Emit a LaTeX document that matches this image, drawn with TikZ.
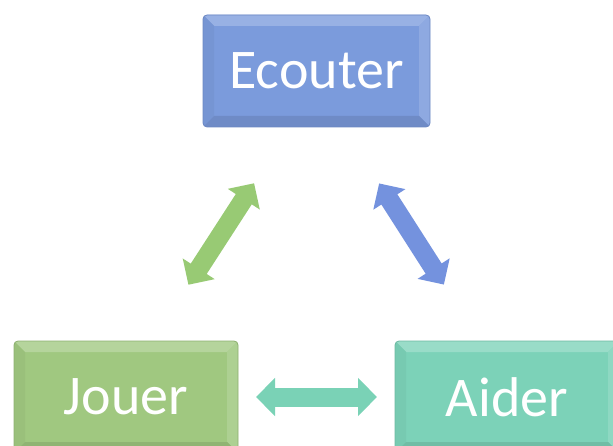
\documentclass[tikz,border=0pt]{standalone}
\usepackage{fontspec}
\setmainfont{Carlito}
\usepackage{xcolor}
\usetikzlibrary{positioning,calc,arrows.meta}
\definecolor{ecoBlue}{RGB}{123,155,220}
\definecolor{jouGreen}{RGB}{160,200,128}
\definecolor{aidTeal}{RGB}{124,210,184}
\definecolor{arrGreen}{RGB}{152,202,116}
\definecolor{arrBlue}{RGB}{116,146,222}
\definecolor{arrTeal}{RGB}{122,210,182}
\tikzset{
    box/.style={rectangle, rounded corners=4pt, fill=#1, minimum width=224pt, minimum height=112pt, inner sep=0pt, outer sep=0pt, text=white, font=\fontsize{56}{60}\selectfont},
    dblarrow/.style={draw=#1, line width=19pt, {Triangle[width=37pt,length=19pt]}-{Triangle[width=37pt,length=19pt]}}
}
\begin{document}
\begin{tikzpicture}[x=1pt, y=1pt,
        bevel/.store in=\bev, bevel=11pt
    ]
    \useasboundingbox (0,0) rectangle (613,445);
    % --- Les trois boites ---
    \node[box=ecoBlue, minimum width=227pt] (ecouter) at (316.5,374) {Ecouter};
    \node[box=jouGreen] (jouer) at (126,48) {Jouer};
    \node[box=aidTeal] (aider) at (507,48) {Aider};
    % --- Effet de relief ---
    \foreach \n/\c in {ecouter/ecoBlue, jouer/jouGreen, aider/aidTeal} {
        \begin{scope}
            \clip[rounded corners=4pt] (\n.north west) rectangle (\n.south east);
            \fill[\c!78!white] (\n.north west) -- (\n.north east) -- ([shift={(-\bev,-\bev)}]\n.north east) -- ([shift={(\bev,-\bev)}]\n.north west) -- cycle;
            \fill[\c!86!white] (\n.north east) -- (\n.south east) -- ([shift={(-\bev,\bev)}]\n.south east) -- ([shift={(-\bev,-\bev)}]\n.north east) -- cycle;
            \fill[\c!96!black] (\n.north west) -- (\n.south west) -- ([shift={(\bev,\bev)}]\n.south west) -- ([shift={(\bev,-\bev)}]\n.north west) -- cycle;
            \fill[\c!90!black] (\n.south west) -- (\n.south east) -- ([shift={(-\bev,\bev)}]\n.south east) -- ([shift={(\bev,\bev)}]\n.south west) -- cycle;
        \end{scope}
        \draw[\c!88!black, line width=0.8pt, rounded corners=4pt] (\n.north west) rectangle (\n.south east);
    }
    % --- Fleches doubles ---
    \draw[dblarrow=arrGreen, shorten <=67pt, shorten >=67pt] ([xshift=26pt]jouer.north) -- ([xshift=-26pt]ecouter.south);
    \draw[dblarrow=arrBlue, shorten <=67pt, shorten >=67pt] ([xshift=26.5pt]ecouter.south) -- ([xshift=-27pt]aider.north);
    \draw[dblarrow=arrTeal, shorten <=18pt, shorten >=18pt] (jouer.east) -- (aider.west);
\end{tikzpicture}
\end{document}
